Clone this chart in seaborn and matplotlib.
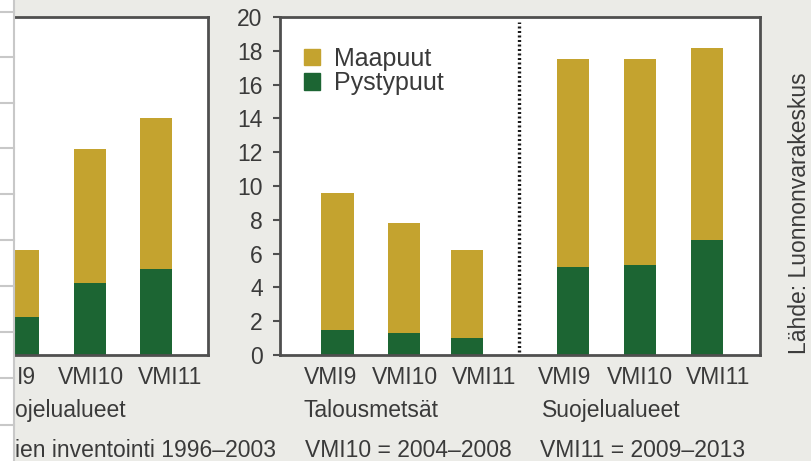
import numpy as np
import pandas as pd
import seaborn as sns
import matplotlib.pyplot as plt
from matplotlib.patches import Patch, Rectangle
from matplotlib.lines import Line2D

# left panel (cropped in the reference, only the visible part of the texts)
left_labels = ["I9", "VMI10", "VMI11"]
left_group = "ojelualueet"
left_pysty = [2.25, 4.25, 5.1]
left_total = [6.2, 12.2, 14.05]

# right panel: Talousmetsät | Suojelualueet
right_labels = ["VMI9", "VMI10", "VMI11", "VMI9", "VMI10", "VMI11"]
right_groups = ["Talousmetsät", "Suojelualueet"]
right_pysty = [1.5, 1.3, 1.0, 5.2, 5.35, 6.8]
right_total = [9.6, 7.8, 6.2, 17.5, 17.5, 18.15]

y_ticks = list(range(0, 21, 2))
legend_labels = ["Maapuut", "Pystypuut"]
period_notes = ["ien inventointi 1996–2003", "VMI10 = 2004–2008", "VMI11 = 2009–2013"]
source = "Lähde: Luonnonvarakeskus"

GOLD = "#c4a32f"
GREEN = "#1c6533"
BG = "#ebebe7"
TXT = "#3a3a3a"
SPINE = "#4f4f4f"
FS = 16.5

plt.rcParams["font.family"] = ["Liberation Sans", "DejaVu Sans"]
plt.rcParams["text.color"] = TXT
plt.rcParams["xtick.color"] = TXT
plt.rcParams["ytick.color"] = SPINE
plt.rcParams["ytick.labelcolor"] = TXT

W, H = 811, 461


def fx(px):
    return px / W


def fy(py):
    return 1 - py / H


# bar / label positions (layout only)
left_pos = [0, 1, 2]
left_tick_pos = [0.04, 1.02, 2.21]
right_pos = [0, 0.99, 1.93, 3.52, 4.51, 5.52]
right_tick_pos = [-0.11, 1.01, 2.19, 3.39, 4.52, 5.68]
BAR_W = 0.48


def stacked(ax, pos, total, pysty):
    df = pd.DataFrame({"pos": pos, "total": total, "pysty": pysty})
    w = BAR_W / np.min(np.diff(sorted(pos)))
    sns.barplot(data=df, x="pos", y="total", native_scale=True, color=GOLD,
                saturation=1, width=w, errorbar=None, linewidth=0, ax=ax)
    sns.barplot(data=df, x="pos", y="pysty", native_scale=True, color=GREEN,
                saturation=1, width=w, errorbar=None, linewidth=0, ax=ax)


fig = plt.figure(figsize=(8.11, 4.61), dpi=100, facecolor=BG)
axL = fig.add_axes([fx(14), fy(355), fx(208) - fx(14), fy(17) - fy(355)])
axR = fig.add_axes([fx(280), fy(355), fx(760) - fx(280), fy(17) - fy(355)])

stacked(axL, left_pos, left_total, left_pysty)
stacked(axR, right_pos, right_total, right_pysty)

for ax in (axL, axR):
    ax.set_facecolor("white")
    ax.set_ylim(0, 20)
    ax.set_xlabel("")
    ax.set_ylabel("")
    for s in ax.spines.values():
        s.set_color(SPINE)
        s.set_linewidth(2)
    ax.tick_params(axis="x", length=0, pad=8, labelsize=FS)

axL.set_xlim(-0.143, 2.785)
axL.spines["left"].set_visible(False)
axL.set_yticks([])
axL.set_xticks(left_tick_pos, left_labels)

axR.set_xlim(-0.858, 6.306)
axR.set_yticks(y_ticks, [str(v) for v in y_ticks])
axR.tick_params(axis="y", length=5, width=1.5, pad=7.5, labelsize=FS)
axR.set_xticks(right_tick_pos, right_labels)
axR.axvline(2.71, ymin=0.01, ymax=0.985, color="#1a1a1a", lw=2.4,
            ls=(0, (0.6, 0.75)))

handles = [Patch(color=GOLD), Patch(color=GREEN)]
axR.legend(handles, legend_labels, loc="upper left", bbox_to_anchor=(0.05, 0.912),
           frameon=False, fontsize=18, handlelength=0.65, handleheight=0.65,
           handletextpad=0.55, labelspacing=0.02, borderpad=0, borderaxespad=0)

# group labels
fig.text(fx(304), fy(417), right_groups[0], fontsize=FS, va="baseline")
fig.text(fx(542), fy(417), right_groups[1], fontsize=FS, va="baseline")
fig.text(fx(15), fy(417), left_group, fontsize=FS, va="baseline")

# notes on the bottom line
fig.text(fx(15), fy(457), period_notes[0], fontsize=FS, va="baseline")
fig.text(fx(305), fy(457), period_notes[1], fontsize=FS, va="baseline")
fig.text(fx(540), fy(457), period_notes[2], fontsize=FS, va="baseline")

fig.text(fx(799), fy(213), source, fontsize=FS, rotation=90,
         ha="center", va="center")

# crop edge of the neighbouring panel
fig.add_artist(Rectangle((0, 0), fx(13), 1, transform=fig.transFigure,
                         facecolor="white", edgecolor="none", zorder=5))
fig.add_artist(Line2D([fx(14), fx(14)], [0, 1], transform=fig.transFigure,
                      color="#c8c8c8", lw=1.5, zorder=6))
for yy in [12, 57, 103, 148, 194, 240, 286, 332, 378, 425]:
    fig.add_artist(Line2D([0, fx(14)], [fy(yy), fy(yy)], transform=fig.transFigure,
                          color="#c8c8c8", lw=1.5, zorder=6))

fig.savefig("out.png", dpi=100, facecolor=BG)
